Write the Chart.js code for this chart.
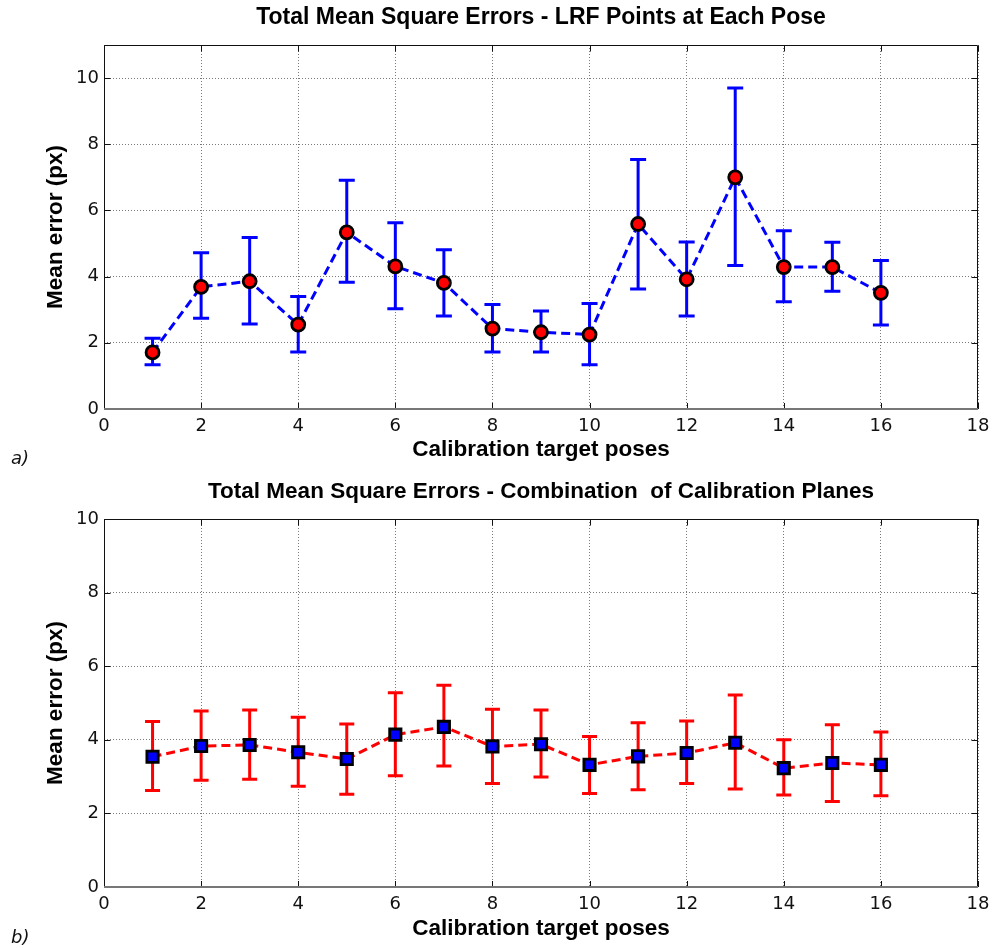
<!DOCTYPE html>
<html>
<head>
<meta charset="utf-8">
<script src="https://cdn.jsdelivr.net/npm/chart.js"></script>
<style>
  body { margin: 0; background: #fff; }
  .wrap { position: relative; width: 994px; height: 474px; }
  .tag { position: absolute; left: 11px; font: italic 18px "DejaVu Sans", sans-serif; color: #111; }
</style>
</head>
<body>
<div class="wrap"><canvas id="chartA" width="994" height="474"></canvas><span class="tag" style="top:447px">a)</span></div>
<div class="wrap"><canvas id="chartB" width="994" height="474"></canvas><span class="tag" style="top:452px">b)</span></div>
<script>
// calibration target poses
const poses = [1, 2, 3, 4, 5, 6, 7, 8, 9, 10, 11, 12, 13, 14, 15, 16];

// a) LRF points at each pose
const lrfMean  = [1.71, 3.69, 3.86, 2.55, 5.34, 4.31, 3.81, 2.43, 2.32, 2.25, 5.59, 3.92, 7.00, 4.29, 4.29, 3.51];
const lrfUpper = [2.14, 4.72, 5.18, 3.40, 6.91, 5.63, 4.81, 3.16, 2.96, 3.19, 7.54, 5.05, 9.70, 5.39, 5.04, 4.49];
const lrfLower = [1.34, 2.74, 2.57, 1.72, 3.83, 3.03, 2.81, 1.72, 1.72, 1.34, 3.63, 2.81, 4.34, 3.24, 3.56, 2.54];

// b) combination of calibration planes
const planeMean  = [3.54, 3.83, 3.86, 3.66, 3.48, 4.14, 4.35, 3.82, 3.88, 3.32, 3.55, 3.64, 3.92, 3.23, 3.37, 3.32];
const planeUpper = [4.50, 4.78, 4.81, 4.61, 4.43, 5.28, 5.48, 4.83, 4.81, 4.09, 4.46, 4.51, 5.22, 4.00, 4.41, 4.21];
const planeLower = [2.62, 2.90, 2.93, 2.74, 2.52, 3.02, 3.29, 2.81, 2.99, 2.54, 2.64, 2.81, 2.66, 2.50, 2.32, 2.48];

const xMax = 18, xStep = 2, yStep = 2;

const axisFont = { family: "'Liberation Sans', Arial, sans-serif", size: 22.5, weight: 'bold' };
const tickFont = { family: "'DejaVu Sans', sans-serif", size: 18 };

// box around the plot with small inward ticks, like the original figure
const frameBox = {
  id: 'frameBox',
  beforeDatasetsDraw(chart) {
    const { ctx, chartArea: a, scales: { x, y } } = chart;
    const l = Math.round(a.left) + 0.5, r = Math.round(a.right) - 0.5;
    const t0 = Math.round(a.top) + 0.5, b = Math.round(a.bottom);
    ctx.save();
    ctx.strokeStyle = '#111';
    ctx.lineWidth = 1;
    ctx.beginPath();
    x.ticks.forEach(t => {
      const px = Math.round(x.getPixelForValue(t.value)) + 0.5;
      ctx.moveTo(px, b); ctx.lineTo(px, b - 6);
      ctx.moveTo(px, t0); ctx.lineTo(px, t0 + 6);
    });
    y.ticks.forEach(t => {
      const py = Math.round(y.getPixelForValue(t.value)) + 0.5;
      ctx.moveTo(l, py); ctx.lineTo(l + 6, py);
      ctx.moveTo(r, py); ctx.lineTo(r - 6, py);
    });
    ctx.moveTo(l, b); ctx.lineTo(l, t0); ctx.lineTo(r, t0); ctx.lineTo(r, b);
    ctx.stroke();
    ctx.strokeStyle = '#777';
    ctx.lineWidth = 2;
    ctx.beginPath();
    ctx.moveTo(l - 0.5, b); ctx.lineTo(r + 0.5, b);
    ctx.stroke();
    ctx.restore();
  }
};

// vertical error bars read from dataset.errLow / dataset.errHigh
const errorBars = {
  id: 'errorBars',
  beforeDatasetsDraw(chart) {
    const { ctx, scales: { x, y } } = chart;
    chart.data.datasets.forEach(ds => {
      if (!ds.errLow) return;
      ctx.save();
      ctx.strokeStyle = ds.errColor;
      ctx.lineWidth = 3;
      ctx.beginPath();
      ds.data.forEach((p, i) => {
        const px = x.getPixelForValue(p.x);
        const hi = y.getPixelForValue(ds.errHigh[i]);
        const lo = y.getPixelForValue(ds.errLow[i]);
        const w = ds.capHalf;
        ctx.moveTo(px, hi); ctx.lineTo(px, lo);
        ctx.moveTo(px - w, hi); ctx.lineTo(px + w, hi);
        ctx.moveTo(px - w, lo); ctx.lineTo(px + w, lo);
      });
      ctx.stroke();
      ctx.restore();
    });
  }
};

function makeChart(id, cfg) {
  return new Chart(document.getElementById(id), {
    type: 'line',
    data: {
      datasets: [{
        data: poses.map((p, i) => ({ x: p, y: cfg.mean[i] })),
        errLow: cfg.lower,
        errHigh: cfg.upper,
        errColor: cfg.lineColor,
        capHalf: cfg.capHalf,
        borderColor: cfg.lineColor,
        borderWidth: 3,
        borderDash: [9, 5],
        pointStyle: cfg.pointStyle,
        pointRadius: cfg.pointRadius,
        pointBorderWidth: 2.8,
        pointBackgroundColor: cfg.markerColor,
        pointBorderColor: '#000',
        tension: 0,
        clip: false
      }]
    },
    options: {
      responsive: false,
      animation: false,
      layout: { padding: { left: 0, right: 16, top: 0, bottom: 0 } },
      plugins: {
        legend: { display: false },
        tooltip: { enabled: false },
        title: {
          display: true,
          text: cfg.title,
          fullSize: false,
          color: '#000',
          font: { family: "'Liberation Sans', Arial, sans-serif", size: cfg.titleSize, weight: 'bold' },
          padding: { top: 4, bottom: 41 - cfg.titleSize * 1.2 }
        }
      },
      scales: {
        x: {
          type: 'linear',
          min: 0,
          max: xMax,
          ticks: { stepSize: xStep, padding: 7, color: '#111', font: tickFont, maxRotation: 0 },
          grid: { color: '#7a7a7a', lineWidth: 1, drawTicks: false },
          border: { display: false, dash: [1, 2] },
          title: { display: true, text: 'Calibration target poses', color: '#000', font: axisFont,
                   padding: { top: 0, bottom: cfg.xTitlePad } },
          afterFit: s => { s.height = cfg.xHeight; s.paddingRight = 0; s.paddingLeft = 0; }
        },
        y: {
          min: 0,
          max: cfg.yMax,
          ticks: { stepSize: yStep, padding: 5, color: '#111', font: tickFont, includeBounds: false },
          grid: { color: '#7a7a7a', lineWidth: 1, drawTicks: false },
          border: { display: false, dash: [1, 2] },
          title: { display: true, text: 'Mean error (px)', color: '#000', font: axisFont,
                   padding: { top: 42, bottom: 0 } },
          afterFit: s => { s.width = 104; s.paddingTop = 0; s.paddingBottom = 0; }
        }
      }
    },
    plugins: [frameBox, errorBars]
  });
}

makeChart('chartA', {
  title: 'Total Mean Square Errors - LRF Points at Each Pose',
  titleSize: 23,
  mean: lrfMean, upper: lrfUpper, lower: lrfLower,
  lineColor: '#0000ff', markerColor: '#ff0000',
  pointStyle: 'circle', pointRadius: 6.5, capHalf: 8,
  yMax: 11, xHeight: 65, xTitlePad: 11
});

makeChart('chartB', {
  title: 'Total Mean Square Errors - Combination  of Calibration Planes',
  titleSize: 22.5,
  mean: planeMean, upper: planeUpper, lower: planeLower,
  lineColor: '#ff0000', markerColor: '#0000ff',
  pointStyle: 'rect', pointRadius: 8, capHalf: 7.5,
  yMax: 10, xHeight: 61, xTitlePad: 6
});
</script>
</body>
</html>
